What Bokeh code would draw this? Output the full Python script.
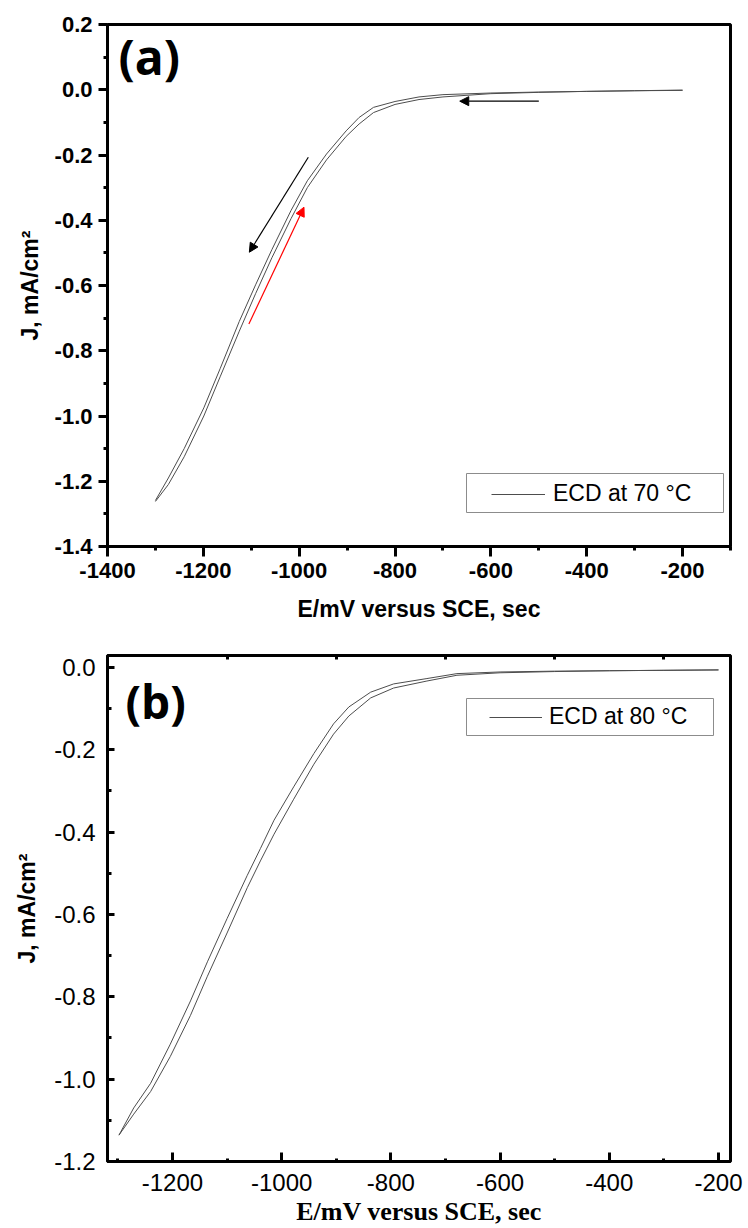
import math
from bokeh.plotting import figure
from bokeh.layouts import column
from bokeh.models import (FixedTicker, LinearAxis, Label, Legend, LegendItem, Arrow,
                          NormalHead, BoxAnnotation, Range1d, PrintfTickFormatter,
                          CustomLabelingPolicy)
from bokeh.embed import file_html
from bokeh.resources import INLINE

# ---------------- data: panel (a), ECD at 70 C ----------------
e_fwd_a = [-200, -300, -400, -500, -600, -700, -750, -800, -845, -875, -902, -943, -983,
           -1017, -1057, -1091, -1125, -1165, -1199, -1240, -1273, -1300]
j_fwd_a = [-0.001, -0.003, -0.005, -0.007, -0.010, -0.015, -0.022, -0.036, -0.054, -0.085,
           -0.126, -0.197, -0.279, -0.37, -0.49, -0.598, -0.71, -0.855, -0.975, -1.10,
           -1.19, -1.259]
e_rev_a = [-1300, -1273, -1240, -1199, -1165, -1125, -1091, -1057, -1017, -983, -943, -902,
           -875, -845, -800, -750, -700, -600, -500, -400, -300, -200]
j_rev_a = [-1.262, -1.21, -1.125, -1.0, -0.88, -0.74, -0.625, -0.515, -0.395, -0.30, -0.215,
           -0.143, -0.105, -0.07, -0.045, -0.030, -0.022, -0.012, -0.008, -0.005, -0.003, -0.002]

# scan-direction arrows in panel (a): start -> end (data units)
arrow_x0 = [-500, -981, -1105]
arrow_y0 = [-0.035, -0.207, -0.718]
arrow_x1 = [-665, -1104, -990]
arrow_y1 = [-0.035, -0.498, -0.36]
arrow_colors = ["black", "black", "red"]

# ---------------- data: panel (b), ECD at 80 C ----------------
e_fwd_b = [-200, -300, -400, -500, -600, -679, -734, -795, -837, -877, -905, -941, -978,
           -1014, -1039, -1063, -1100, -1136, -1167, -1204, -1240, -1271, -1298]
j_fwd_b = [-0.006, -0.007, -0.008, -0.009, -0.011, -0.015, -0.027, -0.040, -0.060, -0.096,
           -0.137, -0.209, -0.29, -0.371, -0.44, -0.505, -0.61, -0.715, -0.81, -0.915,
           -1.01, -1.07, -1.136]
e_rev_b = [-1298, -1271, -1240, -1204, -1167, -1136, -1100, -1063, -1039, -1014, -978, -941,
           -905, -877, -837, -795, -734, -679, -600, -500, -400, -300, -200]
j_rev_b = [-1.136, -1.085, -1.03, -0.945, -0.845, -0.75, -0.645, -0.535, -0.47, -0.405,
           -0.32, -0.235, -0.162, -0.118, -0.074, -0.050, -0.033, -0.019, -0.013, -0.010,
           -0.008, -0.007, -0.006]

# ---------------- ticks ----------------
xticks_a = [-1400, -1200, -1000, -800, -600, -400, -200]
xminor_a = [-1300, -1100, -900, -700, -500, -300, -100]
yticks_a = [0.2, 0.0, -0.2, -0.4, -0.6, -0.8, -1.0, -1.2, -1.4]
yminor_a = [0.1, -0.1, -0.3, -0.5, -0.7, -0.9, -1.1, -1.3]

xticks_b = [-1200, -1000, -800, -600, -400, -200]
xminor_b = [-1300, -1100, -900, -700, -500, -300]
xtop_b = [-1100, -900, -700, -500, -300]
yticks_b = [0.0, -0.2, -0.4, -0.6, -0.8, -1.0, -1.2]
yminor_b = [-0.1, -0.3, -0.5, -0.7, -0.9, -1.1]

legend_a = "ECD at 70 °C"
legend_b = "ECD at 80 °C"
xlabel = "E/mV versus SCE, sec"
ylabel = "J, mA/cm²"

CURVE = "#4d4d4d"
SANS = "Liberation Sans"
SERIF = "Liberation Serif"


def base_fig(w, h, xr, yr, bl, br, bt, bb):
    p = figure(width=w, height=h, x_range=Range1d(*xr), y_range=Range1d(*yr),
               output_backend="svg", toolbar_location=None,
               min_border_left=bl, min_border_right=br, min_border_top=bt, min_border_bottom=bb)
    p.grid.visible = False
    p.background_fill_color = "white"
    p.border_fill_color = "white"
    p.outline_line_color = "black"
    p.outline_line_width = 3
    p.outline_line_alpha = 1
    return p


# =============== panel (a) ===============
pa = base_fig(748, 630, (-1400, -100), (-1.4, 0.2), 104, 2, 24, 84)
ra1 = pa.line(e_fwd_a, j_fwd_a, line_color=CURVE, line_width=1)
pa.line(e_rev_a, j_rev_a, line_color=CURVE, line_width=1)

for ax, tk, mn, tout, mout, fmt in ((pa.xaxis[0], xticks_a, xminor_a, 10, 4, "%d"),
                                    (pa.yaxis[0], yticks_a, yminor_a, 9, 4, "%.1f")):
    ax.ticker = FixedTicker(ticks=tk, minor_ticks=mn)
    ax.formatter = PrintfTickFormatter(format=fmt)
    ax.axis_line_width = 3
    ax.axis_line_color = "black"
    ax.major_tick_line_width = 3
    ax.minor_tick_line_width = 3
    ax.major_tick_in = 0
    ax.major_tick_out = tout
    ax.minor_tick_in = 0
    ax.minor_tick_out = mout
    ax.major_label_text_font = SANS
    ax.major_label_text_font_style = "bold"
    ax.major_label_text_font_size = "22px"
    ax.major_label_text_color = "black"
    ax.major_label_standoff = 6
    ax.axis_label_text_font = SANS
    ax.axis_label_text_font_style = "bold"
    ax.axis_label_text_color = "black"
pa.xaxis[0].axis_label = xlabel
pa.xaxis[0].axis_label_text_font_size = "23px"
pa.xaxis[0].axis_label_standoff = 15
pa.yaxis[0].axis_label = ylabel
pa.yaxis[0].axis_label_text_font_size = "23px"
pa.yaxis[0].axis_label_standoff = 9

for xs, ys, xe, ye, c in zip(arrow_x0, arrow_y0, arrow_x1, arrow_y1, arrow_colors):
    pa.add_layout(Arrow(end=NormalHead(size=9, fill_color=c, line_color=c, line_width=1),
                        x_start=xs, y_start=ys, x_end=xe, y_end=ye,
                        line_color=c, line_width=1.2))

pa.add_layout(BoxAnnotation(left=359, right=616, bottom=34, top=73,
                            left_units="screen", right_units="screen",
                            top_units="screen", bottom_units="screen",
                            fill_color="white", fill_alpha=1,
                            line_color="#8c8c8c", line_width=1, line_alpha=1))
pa.add_layout(Legend(items=[LegendItem(label=legend_a, renderers=[ra1])],
                     location=(384, 39), padding=0, margin=0, spacing=0,
                     border_line_alpha=0, background_fill_alpha=0,
                     glyph_width=54, glyph_height=26, label_height=26, label_standoff=8,
                     label_text_font=SANS, label_text_font_size="23px",
                     label_text_color="black"))

pa.add_layout(Label(x=11, y=490, x_units="screen", y_units="screen", text="(a)",
                    text_font="Open Sans", text_font_style="bold", text_font_size="48px",
                    text_baseline="middle", text_align="left", text_color="black"))

# =============== panel (b) ===============
pb = base_fig(748, 598, (-1319, -178), (-1.2, 0.029), 107, 18, 25, 67)
rb1 = pb.line(e_fwd_b, j_fwd_b, line_color=CURVE, line_width=1)
pb.line(e_rev_b, j_rev_b, line_color=CURVE, line_width=1)

for ax, tk, mn, tin, min_in, fmt in ((pb.xaxis[0], xticks_b, xminor_b, 9, 3, "%d"),
                                     (pb.yaxis[0], yticks_b, yminor_b, 7, 4, "%.1f")):
    ax.ticker = FixedTicker(ticks=tk, minor_ticks=mn)
    ax.formatter = PrintfTickFormatter(format=fmt)
    ax.axis_line_width = 3
    ax.axis_line_color = "black"
    ax.major_tick_line_width = 3
    ax.minor_tick_line_width = 3
    ax.major_tick_in = tin
    ax.major_tick_out = 0
    ax.minor_tick_in = min_in
    ax.minor_tick_out = 0
    ax.major_label_text_font = SANS
    ax.major_label_text_font_style = "normal"
    ax.major_label_text_font_size = "24px"
    ax.major_label_text_color = "black"
    ax.major_label_standoff = 12
    ax.axis_label_text_color = "black"
    ax.axis_label_text_font_style = "bold"
pb.xaxis[0].axis_label = xlabel
pb.xaxis[0].axis_label_text_font = SERIF
pb.xaxis[0].axis_label_text_font_size = "26px"
pb.xaxis[0].axis_label_standoff = 3
pb.yaxis[0].axis_label = ylabel
pb.yaxis[0].axis_label_text_font = SANS
pb.yaxis[0].axis_label_text_font_size = "23px"
pb.yaxis[0].axis_label_standoff = 11

top_ax = LinearAxis(ticker=FixedTicker(ticks=xtop_b, minor_ticks=[]),
                    major_tick_in=4, major_tick_out=0, minor_tick_in=0, minor_tick_out=0,
                    major_tick_line_width=3, axis_line_width=3, axis_line_color="black",
                    major_label_standoff=0,
                    major_label_policy=CustomLabelingPolicy(
                        code="for (const i of indices) indices.unset(i); return indices"))
pb.add_layout(top_ax, "above")

pb.add_layout(BoxAnnotation(left=359, right=606, bottom=426, top=463,
                            left_units="screen", right_units="screen",
                            top_units="screen", bottom_units="screen",
                            fill_color="white", fill_alpha=1,
                            line_color="#8c8c8c", line_width=1, line_alpha=1))
pb.add_layout(Legend(items=[LegendItem(label=legend_b, renderers=[rb1])],
                     location=(382, 431), padding=0, margin=0, spacing=0,
                     border_line_alpha=0, background_fill_alpha=0,
                     glyph_width=53, glyph_height=26, label_height=26, label_standoff=7,
                     label_text_font=SANS, label_text_font_size="23px",
                     label_text_color="black"))

pb.add_layout(Label(x=18, y=461, x_units="screen", y_units="screen", text="(b)",
                    text_font="Open Sans", text_font_style="bold", text_font_size="46px",
                    text_baseline="middle", text_align="left", text_color="black"))

layout = column(pa, pb, spacing=0)
open("out.html", "w").write(file_html(layout, INLINE))
